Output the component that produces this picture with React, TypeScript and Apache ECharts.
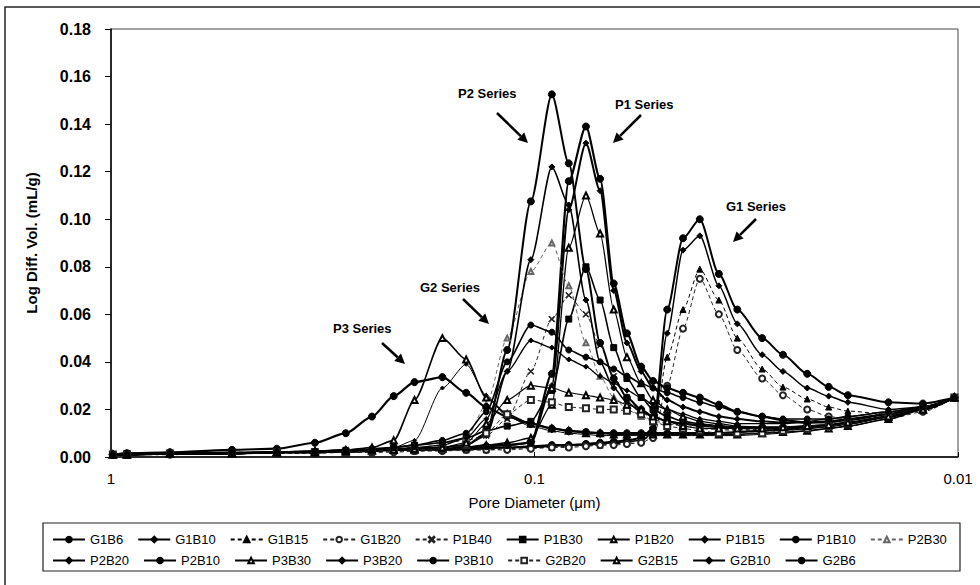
import React, { useEffect, useRef } from "react";
import * as echarts from "echarts";

// Pore diameters (µm) of the measurement points
const poreDiameter = [0.99, 0.917, 0.726, 0.518, 0.406, 0.33, 0.279, 0.242, 0.215, 0.192, 0.165, 0.145, 0.13, 0.116, 0.102, 0.091, 0.083, 0.0756, 0.07, 0.065, 0.0605, 0.056, 0.0525, 0.0486, 0.0446, 0.0407, 0.0367, 0.0332, 0.029, 0.0259, 0.0227, 0.0202, 0.0182, 0.0146, 0.0121, 0.0102];

const seriesNames = ["G1B6", "G1B10", "G1B15", "G1B20", "P1B40", "P1B30", "P1B20", "P1B15", "P1B10", "P2B30", "P2B20", "P2B10", "P3B30", "P3B20", "P3B10", "G2B20", "G2B15", "G2B10", "G2B6"];

const G1B6 = [0.001, 0.0015, 0.0015, 0.0015, 0.002, 0.002, 0.0025, 0.0025, 0.003, 0.003, 0.003, 0.0035, 0.004, 0.004, 0.0045, 0.005, 0.005, 0.0055, 0.006, 0.0065, 0.007, 0.008, 0.012, 0.062, 0.092, 0.1, 0.077, 0.062, 0.05, 0.043, 0.035, 0.0295, 0.026, 0.023, 0.0225, 0.025];
const G1B10 = [0.001, 0.001, 0.0015, 0.0015, 0.002, 0.002, 0.002, 0.0025, 0.003, 0.003, 0.003, 0.003, 0.0035, 0.004, 0.004, 0.0045, 0.005, 0.005, 0.0055, 0.006, 0.0065, 0.007, 0.01, 0.052, 0.087, 0.093, 0.072, 0.056, 0.043, 0.036, 0.029, 0.0256, 0.023, 0.02, 0.021, 0.025];
const G1B15 = [0.001, 0.001, 0.001, 0.0015, 0.0015, 0.002, 0.002, 0.002, 0.0025, 0.0025, 0.003, 0.003, 0.003, 0.0035, 0.004, 0.004, 0.0045, 0.005, 0.005, 0.0055, 0.006, 0.007, 0.009, 0.042, 0.062, 0.079, 0.066, 0.05, 0.037, 0.0294, 0.0244, 0.021, 0.0193, 0.018, 0.02, 0.025];
const G1B20 = [0.001, 0.001, 0.001, 0.0015, 0.0015, 0.0015, 0.002, 0.002, 0.002, 0.0025, 0.0025, 0.003, 0.003, 0.003, 0.0035, 0.004, 0.004, 0.0045, 0.005, 0.005, 0.0055, 0.006, 0.008, 0.03, 0.054, 0.075, 0.06, 0.045, 0.033, 0.026, 0.02, 0.017, 0.016, 0.016, 0.019, 0.025];
const P1B40 = [0.001, 0.001, 0.0015, 0.002, 0.002, 0.0025, 0.003, 0.003, 0.004, 0.005, 0.006, 0.007, 0.009, 0.016, 0.036, 0.058, 0.068, 0.06, 0.047, 0.034, 0.025, 0.019, 0.016, 0.014, 0.013, 0.012, 0.0115, 0.0115, 0.0115, 0.012, 0.0125, 0.013, 0.014, 0.017, 0.02, 0.025];
const P1B30 = [0.001, 0.0015, 0.0015, 0.0015, 0.002, 0.002, 0.0025, 0.003, 0.004, 0.005, 0.006, 0.008, 0.011, 0.013, 0.015, 0.028, 0.058, 0.08, 0.066, 0.046, 0.033, 0.025, 0.02, 0.017, 0.015, 0.014, 0.013, 0.0125, 0.012, 0.012, 0.0125, 0.013, 0.014, 0.017, 0.02, 0.025];
const P1B20 = [0.001, 0.001, 0.0015, 0.0015, 0.002, 0.002, 0.002, 0.0025, 0.003, 0.003, 0.0035, 0.004, 0.005, 0.006, 0.008, 0.022, 0.088, 0.11, 0.094, 0.062, 0.042, 0.031, 0.024, 0.02, 0.017, 0.015, 0.014, 0.013, 0.0125, 0.0125, 0.013, 0.0135, 0.0145, 0.017, 0.02, 0.025];
const P1B15 = [0.001, 0.001, 0.0015, 0.0015, 0.002, 0.002, 0.0025, 0.003, 0.003, 0.0035, 0.004, 0.004, 0.005, 0.005, 0.006, 0.03, 0.104, 0.132, 0.112, 0.07, 0.048, 0.036, 0.029, 0.024, 0.021, 0.019, 0.017, 0.016, 0.015, 0.0145, 0.0145, 0.015, 0.016, 0.018, 0.021, 0.025];
const P1B10 = [0.001, 0.001, 0.0015, 0.0015, 0.002, 0.002, 0.0025, 0.003, 0.003, 0.0035, 0.004, 0.004, 0.0045, 0.005, 0.006, 0.035, 0.116, 0.139, 0.117, 0.073, 0.052, 0.038, 0.032, 0.029, 0.027, 0.025, 0.022, 0.019, 0.017, 0.0155, 0.0145, 0.0147, 0.0155, 0.018, 0.021, 0.025];
const P2B30 = [0.001, 0.001, 0.0015, 0.0015, 0.002, 0.002, 0.0025, 0.003, 0.0035, 0.004, 0.005, 0.008, 0.022, 0.05, 0.078, 0.09, 0.072, 0.048, 0.034, 0.025, 0.02, 0.017, 0.015, 0.014, 0.013, 0.012, 0.0115, 0.011, 0.011, 0.0115, 0.012, 0.013, 0.014, 0.017, 0.02, 0.025];
const P2B20 = [0.001, 0.001, 0.0015, 0.0015, 0.002, 0.002, 0.0025, 0.003, 0.003, 0.0035, 0.004, 0.005, 0.009, 0.036, 0.083, 0.122, 0.106, 0.066, 0.04, 0.029, 0.023, 0.019, 0.017, 0.015, 0.014, 0.013, 0.0125, 0.012, 0.012, 0.012, 0.0125, 0.013, 0.014, 0.017, 0.02, 0.025];
const P2B10 = [0.001, 0.001, 0.0015, 0.0015, 0.002, 0.002, 0.0025, 0.003, 0.003, 0.0035, 0.004, 0.005, 0.01, 0.045, 0.1075, 0.1525, 0.1235, 0.079, 0.048, 0.033, 0.025, 0.02, 0.017, 0.015, 0.014, 0.0135, 0.013, 0.0125, 0.0125, 0.0125, 0.013, 0.0135, 0.0145, 0.017, 0.02, 0.025];
const P3B30 = [0.001, 0.001, 0.0015, 0.0015, 0.002, 0.0025, 0.003, 0.004, 0.007, 0.024, 0.05, 0.041, 0.025, 0.018, 0.014, 0.012, 0.011, 0.01, 0.01, 0.0095, 0.0095, 0.0095, 0.0095, 0.0095, 0.0095, 0.0095, 0.0095, 0.0095, 0.01, 0.0105, 0.011, 0.012, 0.013, 0.016, 0.02, 0.025];
const P3B20 = [0.001, 0.001, 0.0015, 0.0015, 0.002, 0.0025, 0.003, 0.003, 0.004, 0.007, 0.029, 0.039, 0.026, 0.017, 0.013, 0.011, 0.01, 0.0095, 0.009, 0.009, 0.009, 0.009, 0.009, 0.009, 0.009, 0.009, 0.009, 0.009, 0.0095, 0.01, 0.011, 0.012, 0.013, 0.016, 0.02, 0.025];
const P3B10 = [0.001, 0.0015, 0.002, 0.003, 0.0035, 0.006, 0.01, 0.017, 0.0256, 0.0315, 0.0336, 0.027, 0.021, 0.017, 0.014, 0.012, 0.011, 0.0105, 0.01, 0.01, 0.01, 0.01, 0.01, 0.01, 0.01, 0.01, 0.01, 0.0105, 0.011, 0.0115, 0.012, 0.013, 0.014, 0.017, 0.02, 0.025];
const G2B20 = [0.001, 0.001, 0.0015, 0.0015, 0.002, 0.002, 0.002, 0.0025, 0.003, 0.003, 0.0035, 0.005, 0.01, 0.018, 0.024, 0.023, 0.021, 0.0205, 0.02, 0.02, 0.0195, 0.018, 0.015, 0.013, 0.012, 0.011, 0.01, 0.01, 0.01, 0.011, 0.012, 0.013, 0.014, 0.017, 0.02, 0.025];
const G2B15 = [0.001, 0.001, 0.0015, 0.0015, 0.002, 0.002, 0.0025, 0.003, 0.003, 0.0035, 0.004, 0.006, 0.014, 0.024, 0.03, 0.029, 0.027, 0.026, 0.025, 0.024, 0.022, 0.02, 0.017, 0.015, 0.013, 0.012, 0.012, 0.012, 0.012, 0.0125, 0.013, 0.0135, 0.0145, 0.017, 0.02, 0.025];
const G2B10 = [0.001, 0.001, 0.0015, 0.0015, 0.002, 0.002, 0.0025, 0.003, 0.0035, 0.004, 0.005, 0.008, 0.016, 0.036, 0.049, 0.046, 0.041, 0.038, 0.034, 0.031, 0.028, 0.025, 0.022, 0.02, 0.018, 0.016, 0.015, 0.014, 0.014, 0.014, 0.015, 0.016, 0.017, 0.019, 0.021, 0.025];
const G2B6 = [0.001, 0.001, 0.0015, 0.002, 0.002, 0.0025, 0.003, 0.0035, 0.004, 0.005, 0.007, 0.01, 0.019, 0.04, 0.0555, 0.0525, 0.045, 0.042, 0.04, 0.037, 0.034, 0.031, 0.029, 0.027, 0.025, 0.023, 0.021, 0.019, 0.017, 0.016, 0.016, 0.016, 0.017, 0.019, 0.021, 0.025];

const seriesValues = [G1B6, G1B10, G1B15, G1B20, P1B40, P1B30, P1B20, P1B15, P1B10, P2B30, P2B20, P2B10, P3B30, P3B20, P3B10, G2B20, G2B15, G2B10, G2B6];

const yTicks = [0, 0.02, 0.04, 0.06, 0.08, 0.1, 0.12, 0.14, 0.16, 0.18];

const annotations = [
  { text: "P3 Series", x: 333, y: 328, ax1: 382, ay1: 343, ax2: 405, ay2: 364 },
  { text: "G2 Series", x: 420, y: 287, ax1: 463, ay1: 299, ax2: 489, ay2: 324 },
  { text: "P2 Series", x: 458, y: 93, ax1: 497, ay1: 113, ax2: 528, ay2: 143 },
  { text: "P1 Series", x: 615, y: 104, ax1: 641, ay1: 115, ax2: 613, ay2: 143 },
  { text: "G1 Series", x: 726, y: 206, ax1: 756, ay1: 219, ax2: 733, ay2: 242 },
];

const FONT = "'Liberation Sans', Arial, Helvetica, sans-serif";
const X_SYMBOL = "path://M0,1L1,0L5,4L9,0L10,1L6,5L10,9L9,10L5,6L1,10L0,9L4,5Z";

// style per series: [symbol, size, lineWidth, dashed, color]
const styles: Record<string, [string, number, number, boolean, string]> = {
  G1B6: ["circle", 7, 2, false, "#000"],
  G1B10: ["diamond", 6, 1.5, false, "#000"],
  G1B15: ["triangle", 6, 1, true, "#000"],
  G1B20: ["emptyCircle", 6, 1, true, "#222"],
  P1B40: [X_SYMBOL, 6, 1, true, "#222"],
  P1B30: ["rect", 6, 1.6, false, "#000"],
  P1B20: ["emptyTriangle", 6, 1.3, false, "#000"],
  P1B15: ["diamond", 6, 2, false, "#000"],
  P1B10: ["circle", 7, 2.2, false, "#000"],
  P2B30: ["emptyTriangle", 5, 1, true, "#666"],
  P2B20: ["diamond", 6, 1.6, false, "#000"],
  P2B10: ["circle", 7, 2, false, "#000"],
  P3B30: ["emptyTriangle", 6, 1.6, false, "#000"],
  P3B20: ["diamond", 4, 1, false, "#000"],
  P3B10: ["circle", 7, 2.2, false, "#000"],
  G2B20: ["emptyRect", 6, 1, true, "#222"],
  G2B15: ["emptyTriangle", 6, 1.1, false, "#000"],
  G2B10: ["diamond", 5, 1.3, false, "#000"],
  G2B6: ["circle", 6, 1.6, false, "#000"],
};

function arrowGraphics(a: typeof annotations[number]) {
  const dx = a.ax2 - a.ax1;
  const dy = a.ay2 - a.ay1;
  const len = Math.sqrt(dx * dx + dy * dy);
  const ux = dx / len;
  const uy = dy / len;
  const hl = 10;
  const hw = 5;
  const bx = a.ax2 - ux * hl;
  const by = a.ay2 - uy * hl;
  return [
    {
      type: "line",
      shape: { x1: a.ax1, y1: a.ay1, x2: bx, y2: by },
      style: { stroke: "#000", lineWidth: 2.5 },
      silent: true,
    },
    {
      type: "polygon",
      shape: {
        points: [
          [a.ax2, a.ay2],
          [bx - uy * hw, by + ux * hw],
          [bx + uy * hw, by - ux * hw],
        ],
      },
      style: { fill: "#000" },
      silent: true,
    },
    {
      type: "text",
      x: a.x,
      y: a.y,
      style: {
        text: a.text,
        font: `bold 13px ${FONT}`,
        fill: "#000",
        verticalAlign: "middle",
        align: "left",
      },
      silent: true,
    },
  ];
}

export default function App() {
  const ref = useRef<HTMLDivElement>(null);
  useEffect(() => {
    if (!ref.current) return;
    const chart = echarts.init(ref.current, undefined, { renderer: "svg" });
    const series = seriesNames.map((name, k) => {
      const [symbol, size, width, dashed, color] = styles[name];
      return {
        name,
        type: "line",
        data: poreDiameter.map((d, i) => [d, seriesValues[k][i]]),
        symbol,
        symbolSize: size,
        smooth: 0.25,
        smoothMonotone: "x",
        lineStyle: { color, width, type: dashed ? [4, 3] : "solid" },
        itemStyle: { color, borderColor: color, borderWidth: 1 },
        emphasis: { disabled: true },
        z: 2,
      };
    });
    const legendCommon = {
      orient: "horizontal",
      itemWidth: 32,
      itemHeight: 7,
      itemGap: 14,
      textStyle: { fontFamily: FONT, fontSize: 13, color: "#000" },
      selectedMode: false,
    };
    chart.setOption({
      animation: false,
      backgroundColor: "#fff",
      textStyle: { fontFamily: FONT },
      grid: {
        left: 111,
        top: 29,
        right: 22,
        bottom: 128,
        show: true,
        borderColor: "#444",
        borderWidth: 1,
        backgroundColor: "transparent",
      },
      xAxis: {
        type: "log",
        logBase: 10,
        min: 0.01,
        max: 1,
        inverse: true,
        name: "Pore Diameter (μm)",
        nameLocation: "middle",
        nameGap: 38,
        nameTextStyle: { fontFamily: FONT, fontSize: 15, color: "#000" },
        axisLine: { lineStyle: { color: "#000", width: 1.5 } },
        axisTick: { inside: true, length: 5, lineStyle: { color: "#000" } },
        minorTick: { show: false },
        splitLine: { show: false },
        axisLabel: {
          margin: 14,
          fontFamily: FONT,
          fontSize: 15,
          color: "#000",
          formatter: (v: number) => String(Number(v.toPrecision(3))),
        },
      },
      yAxis: {
        type: "value",
        min: 0,
        max: 0.18,
        interval: 0.02,
        name: "Log Diff. Vol. (mL/g)",
        nameLocation: "middle",
        nameRotate: 90,
        nameGap: 72,
        nameTextStyle: { fontFamily: FONT, fontSize: 15, fontWeight: "bold", color: "#000" },
        axisLine: { show: true, lineStyle: { color: "#000", width: 1.5 } },
        axisTick: { show: true, inside: false, length: 6, lineStyle: { color: "#000" } },
        splitLine: { show: false },
        axisLabel: {
          margin: 20,
          fontFamily: FONT,
          fontSize: 16,
          fontWeight: "bold",
          color: "#000",
          formatter: (v: number) => {
            const t = yTicks.find((y) => Math.abs(y - v) < 1e-9);
            return (t ?? v).toFixed(2);
          },
        },
      },
      legend: [
        { ...legendCommon, data: seriesNames.slice(0, 10), left: 47, top: 528 },
        { ...legendCommon, data: seriesNames.slice(10), left: 47, top: 549 },
      ],
      graphic: [
        {
          type: "rect",
          shape: { x: 5, y: 7, width: 1000, height: 640 },
          style: { fill: "none", stroke: "#222", lineWidth: 1.5 },
          silent: true,
          z: -1,
        },
        {
          type: "rect",
          shape: { x: 43, y: 523, width: 917, height: 48 },
          style: { fill: "none", stroke: "#222", lineWidth: 1.2 },
          silent: true,
        },
        ...annotations.flatMap(arrowGraphics),
      ],
      series,
    });
    return () => chart.dispose();
  }, []);
  return (
    <div
      ref={ref}
      style={{ position: "fixed", left: 0, top: 0, width: 980, height: 585, background: "#fff" }}
    />
  );
}
